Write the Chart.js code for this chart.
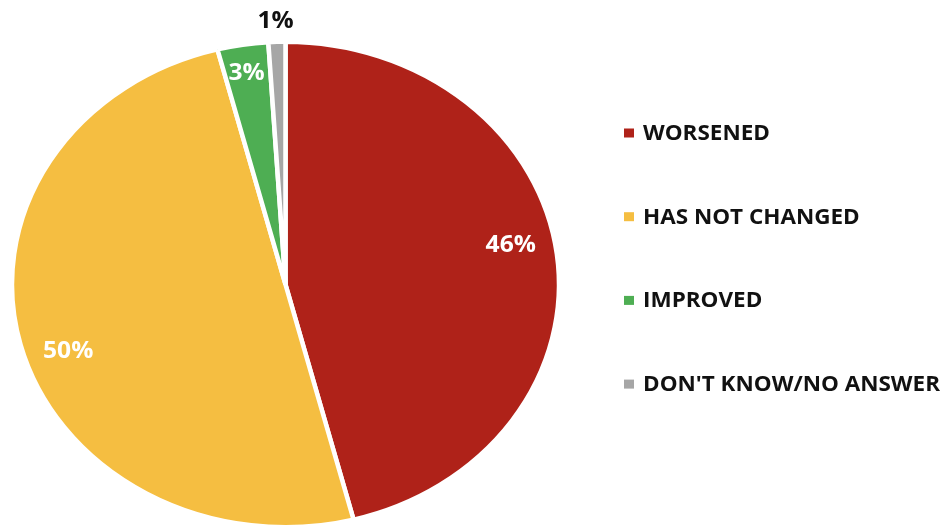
<!DOCTYPE html>
<html>
<head>
<meta charset="utf-8">
<script src="https://cdn.jsdelivr.net/npm/chart.js@4"></script>
<style>
  html,body{margin:0;padding:0;background:#fff;}
  #wrap{width:945px;height:529px;position:relative;overflow:hidden;}
</style>
</head>
<body>
<div id="wrap"><canvas id="c" width="945" height="529"></canvas></div>
<script>
const categories = ["WORSENED", "HAS NOT CHANGED", "IMPROVED", "DON'T KNOW/NO ANSWER"];
const values = [46, 50, 3, 1];
const valueLabels = ["46%", "50%", "3%", "1%"];
const colors = ["#AF2219", "#F5BE41", "#4EAE53", "#A6A6A6"];
const labelColors = ["#ffffff", "#ffffff", "#ffffff", "#111111"];

const STRETCH = 273.5 / 242.5; // reference pie is an ellipse (wider than tall)
const TEXT_STRETCH = 1.07;
const FONT = "'Open Sans', 'DejaVu Sans', sans-serif";

const stretchPlugin = {
  id: 'stretch',
  beforeDatasetsDraw(chart){
    const ctx = chart.ctx; const arc = chart.getDatasetMeta(0).data[0];
    ctx.save();
    ctx.translate(arc.x, 0); ctx.scale(STRETCH, 1); ctx.translate(-arc.x, 0);
  },
  afterDatasetsDraw(chart){
    chart.ctx.restore();
  }
};

function drawText(ctx, text, x, y, align){
  ctx.save();
  ctx.translate(x, y);
  ctx.scale(TEXT_STRETCH, 1);
  ctx.textAlign = align;
  ctx.textBaseline = 'middle';
  ctx.fillText(text, 0, 0);
  ctx.restore();
}

const labelPlugin = {
  id: 'valLabels',
  afterDraw(chart){
    const ctx = chart.ctx;
    const meta = chart.getDatasetMeta(0);
    meta.data.forEach((arc, i) => {
      const ang = arc.startAngle + (arc.endAngle - arc.startAngle) * 0.475;
      const v = values[i];
      const f = v < 2 ? 1.09 : (v < 10 ? 0.885 : 0.84);
      const x = arc.x + Math.cos(ang) * arc.outerRadius * f * STRETCH;
      const y = arc.y + Math.sin(ang) * arc.outerRadius * f;
      ctx.save();
      ctx.font = "bold 23px " + FONT;
      ctx.fillStyle = labelColors[i];
      drawText(ctx, valueLabels[i], x, y + 1, 'center');
      ctx.restore();
    });
  }
};

const legendPlugin = {
  id: 'sideLegend',
  afterDraw(chart){
    const ctx = chart.ctx;
    const x0 = 624, y0 = 133, step = 83.7;
    categories.forEach((name, i) => {
      const y = y0 + i * step;
      ctx.save();
      ctx.fillStyle = colors[i];
      ctx.fillRect(x0, y - 4.5, 10, 9);
      ctx.font = "bold 21px " + FONT;
      ctx.fillStyle = "#111111";
      drawText(ctx, name, x0 + 19, y + 1, 'left');
      ctx.restore();
    });
  }
};

new Chart(document.getElementById('c'), {
  type: 'pie',
  data: {
    labels: categories,
    datasets: [{
      data: values,
      backgroundColor: colors,
      borderColor: '#ffffff',
      borderWidth: 4
    }]
  },
  options: {
    responsive: false,
    animation: false,
    layout: { padding: { left: 39.5, right: 413.5, top: 40, bottom: -3 } },
    plugins: { legend: { display: false }, tooltip: { enabled: false } }
  },
  plugins: [stretchPlugin, labelPlugin, legendPlugin]
});
</script>
</body>
</html>
